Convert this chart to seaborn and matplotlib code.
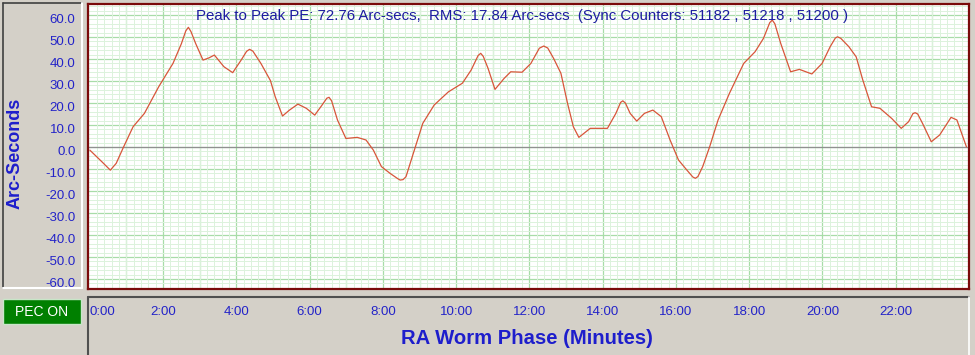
import numpy as np
import matplotlib
matplotlib.use("Agg")
import matplotlib.pyplot as plt
import matplotlib.transforms as mtransforms
from matplotlib.patches import Rectangle
import pandas as pd
import seaborn as sns

# PE curve (minutes, arc-seconds)
minutes = [0.00, 0.33, 0.56, 0.72, 0.92, 1.18, 1.49, 1.88, 2.27, 2.50, 2.62, 2.69, 2.76, 2.89,
           3.09, 3.25, 3.40, 3.66, 3.90, 4.13, 4.28, 4.36, 4.45, 4.67, 4.93, 5.06, 5.26, 5.45,
           5.68, 5.91, 6.14, 6.34, 6.47, 6.53, 6.60, 6.76, 6.99, 7.30, 7.54, 7.74, 7.96, 8.20,
           8.40, 8.47, 8.55, 8.63, 8.83, 9.09, 9.40, 9.79, 10.17, 10.41, 10.60, 10.67, 10.74,
           10.87, 11.06, 11.31, 11.49, 11.80, 12.04, 12.27, 12.39, 12.50, 12.66, 12.86, 13.04,
           13.20, 13.35, 13.66, 14.13, 14.36, 14.49, 14.55, 14.62, 14.75, 14.93, 15.14, 15.37,
           15.60, 15.84, 16.07, 16.30, 16.46, 16.53, 16.60, 16.73, 16.92, 17.15, 17.46, 17.85,
           18.16, 18.39, 18.56, 18.63, 18.70, 18.86, 19.13, 19.37, 19.71, 19.99, 20.21, 20.35,
           20.41, 20.50, 20.72, 20.92, 21.10, 21.34, 21.57, 21.89, 22.15, 22.35, 22.47, 22.53,
           22.60, 22.73, 22.97, 23.20, 23.51, 23.67, 23.93]
arcsec = [-1.4, -6.7, -10.5, -7.4, 0.0, 9.2, 15.3, 27.4, 38.0, 47.0, 52.8, 54.4, 52.5, 47.0,
          39.5, 40.5, 41.8, 36.5, 33.8, 39.5, 43.5, 44.4, 43.6, 38.0, 30.2, 22.9, 14.1, 16.8,
          19.5, 17.6, 14.5, 19.1, 22.2, 22.6, 21.0, 12.3, 3.9, 4.4, 3.2, -1.4, -8.9, -12.0,
          -14.3, -15.0, -14.8, -13.5, -2.9, 10.8, 19.1, 25.1, 29.0, 35.0, 41.6, 42.6, 41.2,
          35.8, 26.2, 31.2, 34.2, 34.0, 38.0, 44.9, 45.9, 45.0, 40.3, 33.5, 19.9,
          9.2, 4.4, 8.5, 8.5, 15.3, 20.3, 21.0, 20.0, 15.3, 11.8, 15.3, 16.8,
          13.8, 3.2, -5.9, -10.5, -13.6, -14.2, -13.4, -8.9, 0.1, 12.3, 24.4, 38.0,
          43.3, 49.4, 56.5, 57.7, 56.0, 47.1, 34.2, 35.3, 33.2, 38.0, 45.6, 49.5,
          50.1, 49.4, 45.6, 41.0, 30.5, 18.3, 17.6, 13.0, 8.5, 11.5, 15.2, 15.6,
          15.0, 10.8, 2.4, 5.5, 13.5, 12.3, 0.1]

x_ticks = [0, 2, 4, 6, 8, 10, 12, 14, 16, 18, 20, 22]
x_tick_labels = ["0:00", "2:00", "4:00", "6:00", "8:00", "10:00", "12:00",
                 "14:00", "16:00", "18:00", "20:00", "22:00"]
y_ticks = [-60, -50, -40, -30, -20, -10, 0, 10, 20, 30, 40, 50, 60]

title_text = "Peak to Peak PE: 72.76 Arc-secs,  RMS: 17.84 Arc-secs  (Sync Counters: 51182 , 51218 , 51200 )"

df = pd.DataFrame({"minutes": minutes, "arcsec": arcsec})

sns.set_style("white")
plt.rcParams["font.family"] = ["Liberation Sans", "DejaVu Sans"]

W, H = 975, 355
win_gray = "#D4D0C8"
blue = "#2323C8"

fig = plt.figure(figsize=(W / 100, H / 100), dpi=100, facecolor=win_gray)


def fx(px):
    return px / W


def fy(py):
    return 1 - py / H


def hline(x0, x1, y, color, lw):
    fig.add_artist(plt.Line2D([fx(x0), fx(x1)], [fy(y), fy(y)], color=color, lw=lw))


def vline(x, y0, y1, color, lw):
    fig.add_artist(plt.Line2D([fx(x), fx(x)], [fy(y0), fy(y1)], color=color, lw=lw))


# left panel (sunken look)
vline(3, 3, 288, "#404040", 1.2)
hline(3, 82, 3, "#404040", 1.2)
hline(3, 82, 288, "white", 1.5)
vline(82, 3, 288, "white", 1.5)

# PEC ON button
fig.patches.append(Rectangle((fx(3), fy(324)), 78 / W, 25 / H, transform=fig.transFigure,
                             facecolor="#008000", edgecolor="#C8E6C8", lw=1))
fig.text(fx(42), fy(312.5), "PEC ON", color="white", fontsize=10, ha="center", va="center")

# bottom x-axis panel
hline(88, 969, 297, "#505050", 1.5)
vline(88, 297, 355, "#505050", 1.5)
vline(969, 297, 355, "white", 1.2)

# main plot
ax = fig.add_axes([fx(88), fy(289), 881 / W, 285 / H])
ax.set_facecolor("white")

ax.axhline(0, color="#909090", lw=0.9)
sns.lineplot(data=df, x="minutes", y="arcsec", ax=ax, color="#D8553A", lw=0.9,
             solid_joinstyle="round")

ax.set_xlim(-0.05, 24.0)
ax.set_ylim(-64.5, 65)

ax.set_xticks(x_ticks)
ax.set_xticklabels(x_tick_labels)
ax.set_yticks(y_ticks)
ax.set_yticklabels([f"{v:.1f}" for v in y_ticks])
# grid: one line per minute / 10 arcsec, fainter sub-lines
ax.set_xticks(np.arange(0, 24.01, 0.2), minor=True)
ax.set_yticks(np.arange(-64, 65, 2), minor=True)
ax.grid(False)
ax.grid(which="minor", color="#DCF2DC", lw=0.7)
for v in np.arange(1, 24):
    ax.axvline(v, color="#A8DCA8", lw=0.9, zorder=0.5)
for v in y_ticks:
    ax.axhline(v, color="#A8DCA8", lw=0.9, zorder=0.5)
ax.set_axisbelow(True)
ax.tick_params(axis="both", which="both", length=0)
ax.tick_params(axis="y", colors=blue, labelsize=9.5, pad=9)
ax.tick_params(axis="x", colors=blue, labelsize=9.5, pad=12)
ax.get_xticklabels()[0].set_horizontalalignment("left")

# y labels sit a few pixels below their grid lines in the original
shift = mtransforms.ScaledTranslation(0, -3 / 100, fig.dpi_scale_trans)
for lbl in ax.get_yticklabels():
    lbl.set_transform(lbl.get_transform() + shift)

for s in ax.spines.values():
    s.set_color("#7A0A0A")
    s.set_linewidth(1.6)
    s.set_visible(True)

ax.set_xlabel("")
ax.set_ylabel("")

fig.text(fx(15), fy(153), "Arc-Seconds", rotation=90, color="#1E1ECC", fontsize=13,
         fontweight="bold", ha="center", va="center")
fig.text(fx(527), fy(338), "RA Worm Phase (Minutes)", color="#1E1ECC", fontsize=14.6,
         fontweight="bold", ha="center", va="center")
fig.text(fx(522), fy(16), title_text, color="#1C1CA0", fontsize=10.8, ha="center", va="center")

fig.savefig("out.png", dpi=100, facecolor=win_gray)
